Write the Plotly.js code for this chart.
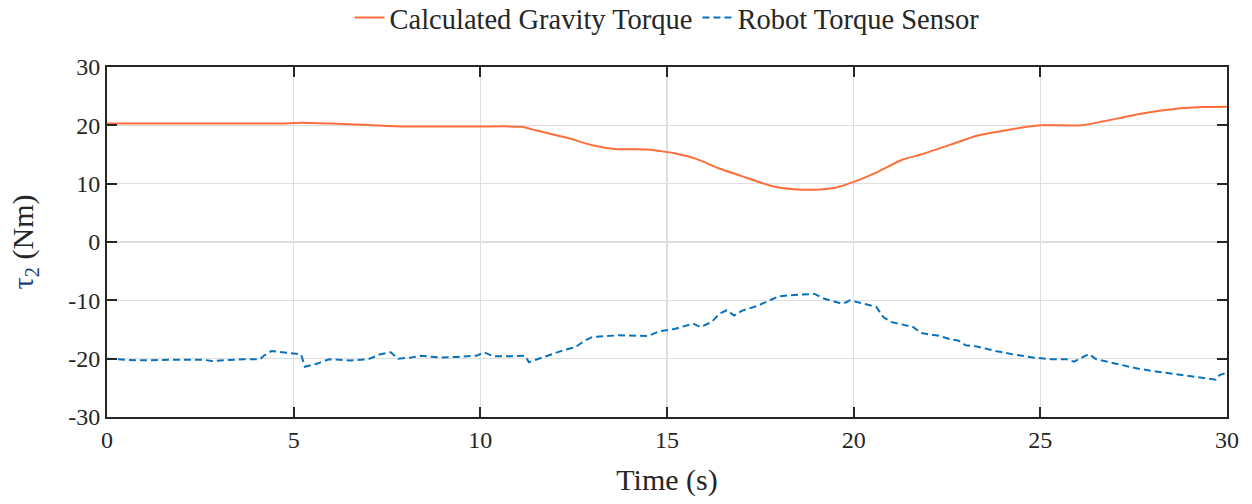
<!DOCTYPE html>
<html>
<head>
<meta charset="utf-8">
<script src="https://cdn.plot.ly/plotly-3.0.1.min.js"></script>
<style>html,body{margin:0;padding:0;background:#fff;}#chart{width:1252px;height:504px;}</style>
</head>
<body>
<div id="chart"></div>
<script>
// Calculated gravity torque (orange, solid)
const gravityTime = [0, 2, 4, 4.6, 5.2, 6, 7, 8, 9, 10, 11.1, 11.5, 12.3, 13, 13.6, 14.5, 14.8, 15.2, 15.8, 16.4, 17.0, 17.8, 18.4, 19.1, 19.5, 20.0, 20.6, 21.3, 21.8, 22.6, 23.3, 24.2, 25.0, 26.1, 26.7, 27.7, 28.7, 29.4, 30];
const gravityTorque = [20.3, 20.3, 20.3, 20.3, 20.45, 20.3, 20.05, 19.8, 19.8, 19.8, 19.75, 19.1, 17.9, 16.6, 15.95, 15.85, 15.6, 15.2, 14.2, 12.6, 11.3, 9.6, 9.05, 9.0, 9.3, 10.3, 11.9, 14.1, 15.0, 16.7, 18.2, 19.3, 20.0, 20.0, 20.7, 22.0, 22.9, 23.15, 23.2];

// Robot torque sensor (blue, dashed)
const sensorTime = [0, 0.8, 1.7, 2.6, 2.8, 3.1, 3.65, 4.1, 4.2, 4.4, 4.6, 5.0, 5.2, 5.3, 5.6, 5.95, 6.5, 7.0, 7.3, 7.6, 7.8, 8.15, 8.4, 8.9, 9.4, 9.9, 10.1, 10.35, 10.8, 11.2, 11.3, 11.6, 11.9, 12.25, 12.55, 12.8, 13.0, 13.7, 14.5, 14.8, 15.2, 15.7, 15.9, 16.2, 16.4, 16.6, 16.8, 17.0, 17.4, 17.7, 18.0, 18.6, 18.95, 19.2, 19.5, 19.7, 19.9, 20.3, 20.6, 20.8, 21.0, 21.6, 21.8, 22.3, 22.6, 22.8, 23.0, 23.3, 23.8, 24.3, 24.8, 25.3, 25.7, 25.9, 26.1, 26.3, 26.5, 27.0, 27.6, 28.1, 28.8, 29.4, 29.7, 29.8, 30];
const sensorTorque = [-20.0, -20.3, -20.2, -20.2, -20.4, -20.3, -20.1, -20.1, -19.5, -18.7, -18.8, -19.1, -19.3, -21.4, -20.9, -20.1, -20.3, -20.1, -19.3, -18.9, -20.0, -19.8, -19.5, -19.8, -19.7, -19.5, -18.9, -19.6, -19.6, -19.5, -20.6, -19.9, -19.3, -18.5, -18.0, -16.9, -16.3, -16.0, -16.1, -15.3, -14.9, -14.0, -14.6, -13.7, -12.3, -11.7, -12.6, -11.8, -11.0, -10.1, -9.3, -9.0, -8.9, -9.7, -10.3, -10.6, -10.0, -10.7, -11.1, -12.9, -13.7, -14.6, -15.6, -16.1, -16.7, -16.9, -17.7, -17.9, -18.7, -19.3, -19.8, -20.1, -20.1, -20.5, -19.8, -19.2, -20.1, -20.8, -21.7, -22.2, -22.8, -23.3, -23.6, -22.8, -22.4];

const xTicks = [0, 5, 10, 15, 20, 25, 30];
const yTicks = [-30, -20, -10, 0, 10, 20, 30];
const seriesNames = ['Calculated Gravity Torque', 'Robot Torque Sensor'];

const fontFamily = '"Liberation Serif", "Times New Roman", serif';

const traces = [
  {
    x: gravityTime, y: gravityTorque, name: seriesNames[0], type: 'scatter', mode: 'lines',
    line: {color: '#ff6e3a', width: 2, shape: 'spline', smoothing: 0.6}
  },
  {
    x: sensorTime, y: sensorTorque, name: seriesNames[1], type: 'scatter', mode: 'lines',
    line: {color: '#0a72bd', width: 2, dash: '7px,4px'}
  }
];

const axisCommon = {
  showline: true, linecolor: '#262626', linewidth: 2, mirror: 'ticks',
  ticks: 'inside', ticklen: 10, tickwidth: 2, tickcolor: '#262626',
  showgrid: true, gridcolor: '#dedede', gridwidth: 1.5, zeroline: false,
  tickfont: {family: fontFamily, size: 24, color: '#262626'}
};

const layout = {
  width: 1252, height: 504,
  margin: {l: 107, r: 25, t: 67, b: 87, autoexpand: false},
  paper_bgcolor: '#ffffff', plot_bgcolor: '#ffffff',
  font: {family: fontFamily, color: '#262626'},
  showlegend: true,
  legend: {
    orientation: 'h', x: 0.5, xanchor: 'center', y: 1.14, yanchor: 'middle',
    font: {family: fontFamily, size: 28.5, color: '#262626'},
    itemwidth: 30, tracegroupgap: 0, bgcolor: 'rgba(0,0,0,0)'
  },
  xaxis: Object.assign({}, axisCommon, {
    range: [0, 30], tickvals: xTicks, ticktext: xTicks.map(String),
    title: {text: 'Time (s)', font: {family: fontFamily, size: 30, color: '#262626'}, standoff: 17}
  }),
  yaxis: Object.assign({}, axisCommon, {
    range: [-30, 30], tickvals: yTicks, ticktext: yTicks.map(String),
    title: {text: '<span style="color:#1b3d80">τ<sub>2</sub></span> (Nm)', font: {family: fontFamily, size: 30, color: '#262626'}, standoff: 26}
  })
};

Plotly.newPlot('chart', traces, layout, {displayModeBar: false, staticPlot: true});
</script>
</body>
</html>
